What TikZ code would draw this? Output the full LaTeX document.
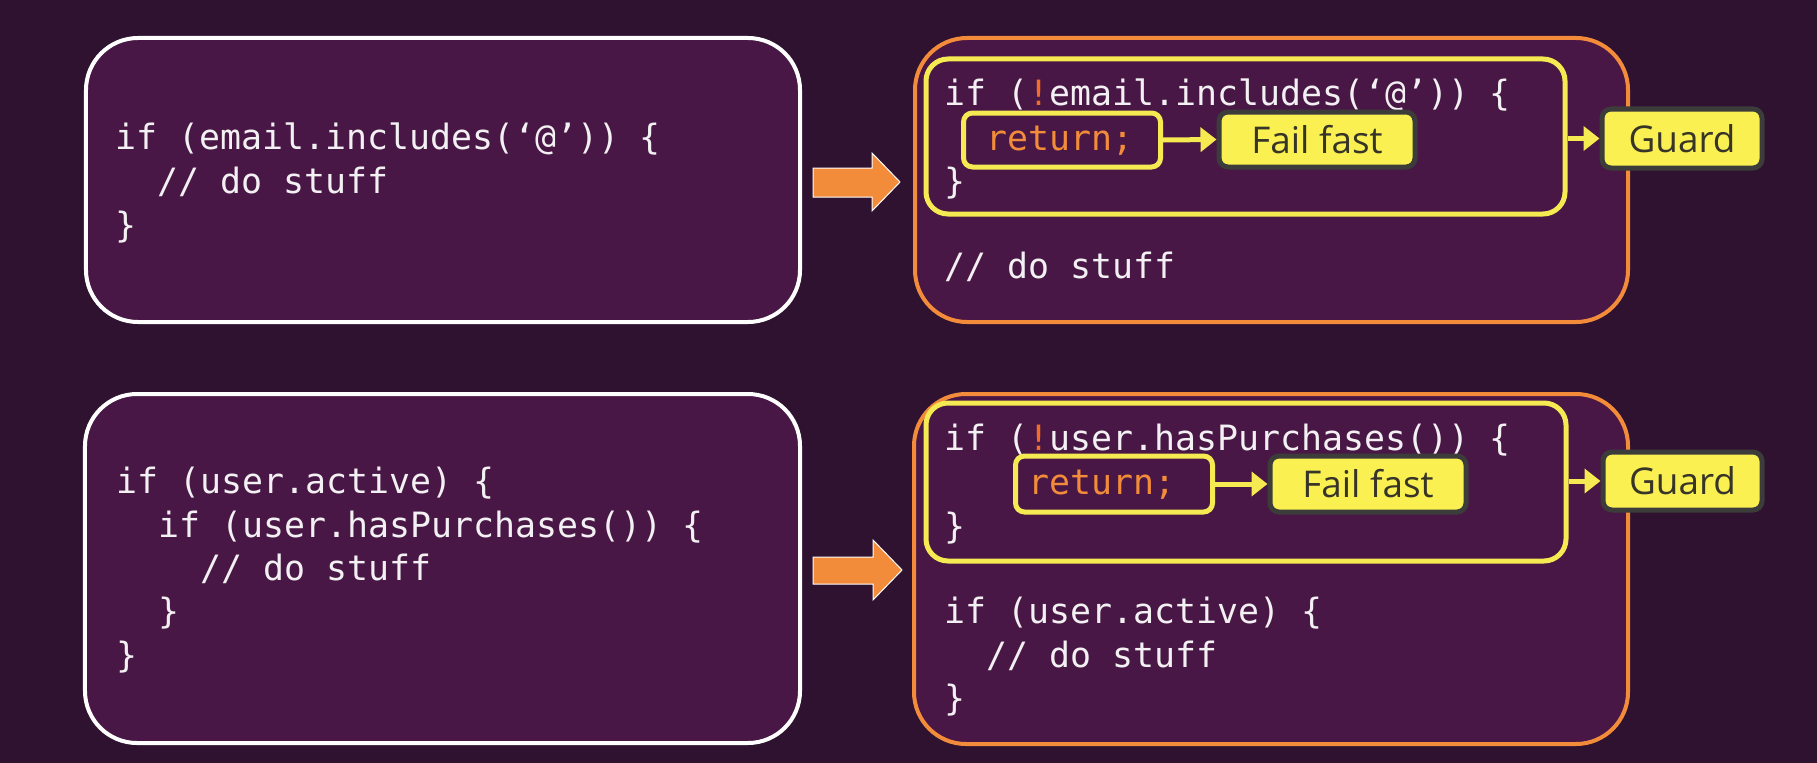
\documentclass[tikz,border=0pt]{standalone}
\usepackage{fontspec}
\newfontfamily\codefont{DejaVu Sans Mono}
\newfontfamily\labelfont{Open Sans}
\usetikzlibrary{arrows.meta}
\definecolor{bgc}{RGB}{46,18,48}
\definecolor{boxfill}{RGB}{72,23,69}
\definecolor{orng}{RGB}{242,140,58}
\definecolor{ylw}{RGB}{246,234,82}
\definecolor{lblfill}{RGB}{250,240,82}
\definecolor{lbldraw}{RGB}{60,60,58}
\definecolor{lbltext}{RGB}{55,52,40}
\definecolor{codetext}{RGB}{242,240,242}
\definecolor{bang}{RGB}{240,110,40}
\tikzset{
  bigbox/.style={draw=white, line width=4bp, fill=boxfill, rounded corners=52bp, inner sep=0pt},
  orbox/.style={bigbox, draw=orng},
  ylbox/.style={draw=ylw, line width=5bp, rounded corners=22bp, inner sep=0pt},
  retbox/.style={draw=ylw, line width=5bp, rounded corners=9bp, inner sep=0pt, minimum width=197bp, minimum height=54bp},
  lbl/.style={draw=lbldraw, fill=lblfill, line width=5bp, rounded corners=9bp, inner sep=0pt, text=lbltext, font=\labelfont\fontsize{37}{40}\selectfont},
  code/.style={anchor=base west, text=codetext, inner sep=0pt, font=\codefont\fontsize{35}{44}\selectfont},
  retcode/.style={code, text=orng},
  yarrow/.style={draw=ylw, line width=5bp, -{Triangle[length=16bp,width=24bp]}},
  blockarrow/.style={fill=orng, draw=white, line width=1bp}
}
\begin{document}
\begin{tikzpicture}[x=1bp,y=-1bp]
\useasboundingbox (0,0) rectangle (1817,763);
\fill[bgc] (0,0) rectangle (1817,763);
% big boxes
\node[bigbox, minimum width=714bp, minimum height=284bp] (TL) at (443,180) {};
\node[bigbox, minimum width=715bp, minimum height=349bp] (BL) at (442.5,568.5) {};
\node[orbox, minimum width=713bp, minimum height=284bp] (TR) at (1271.5,180) {};
\node[orbox, minimum width=714bp, minimum height=350bp] (BR) at (1271,569) {};
% inner yellow boxes
\node[ylbox, minimum width=639bp, minimum height=155bp] (G1) at (1245.5,136.5) {};
\node[ylbox, minimum width=640bp, minimum height=158bp] (G2) at (1246,482) {};
% block arrows
\fill[blockarrow] (813,168) -- (872,168) -- (872,153) -- (900,182) -- (872,211) -- (872,197) -- (813,197) -- cycle;
\fill[blockarrow] (813,557) -- (873,557) -- (873,540) -- (902,570) -- (873,600) -- (873,584) -- (813,584) -- cycle;
% top-left code
\node[code] (tl1) at (115,149) {if (email.includes(‘@’)) \{};
\node[code] (tl2) at (157,193) {// do stuff};
\node[code] (tl3) at (115,237) {\}};
% bottom-left code
\node[code] (bl1) at (116,493) {if (user.active) \{};
\node[code] (bl2) at (158,537) {if (user.hasPurchases()) \{};
\node[code] (bl3) at (200,580) {// do stuff};
\node[code] (bl4) at (158,623) {\}};
\node[code] (bl5) at (116,667) {\}};
% top-right code
\node[code] (tr1) at (944,105) {if (\textcolor{bang}{!}email.includes(‘@’)) \{};
\node[retbox] (R1) at (1062,140) {};
\node[retcode] (tr2) at (986,150) {return;};
\node[code] (tr3) at (944,193) {\}};
\node[code] (tr4) at (944,278) {// do stuff};
% bottom-right code
\node[code] (br1) at (944,450) {if (\textcolor{bang}{!}user.hasPurchases()) \{};
\node[retbox, minimum height=56bp] (R2) at (1114,484) {};
\node[retcode] (br2) at (1028,494) {return;};
\node[code] (br3) at (944,538) {\}};
\node[code] (br4) at (944,623) {if (user.active) \{};
\node[code] (br5) at (986,667) {// do stuff};
\node[code] (br6) at (944,710) {\}};
% labels
\node[lbl, minimum width=196bp, minimum height=55bp] (F1) at (1317,139.5) {Fail fast};
\node[lbl, minimum width=196bp, minimum height=56bp] (F2) at (1368,484) {Fail fast};
\node[lbl, minimum width=160bp, minimum height=59bp] (Gd1) at (1682,138.5) {Guard};
\node[lbl, minimum width=159bp, minimum height=58bp] (Gd2) at (1682.5,481) {Guard};
% connectors
\draw[yarrow] (R1.east) -- (F1.west);
\draw[yarrow] (R2.east) -- (F2.west);
\draw[yarrow] (G1.east |- Gd1.west) -- (Gd1.west);
\draw[yarrow] (G2.east |- Gd2.west) -- (Gd2.west);
\end{tikzpicture}
\end{document}
